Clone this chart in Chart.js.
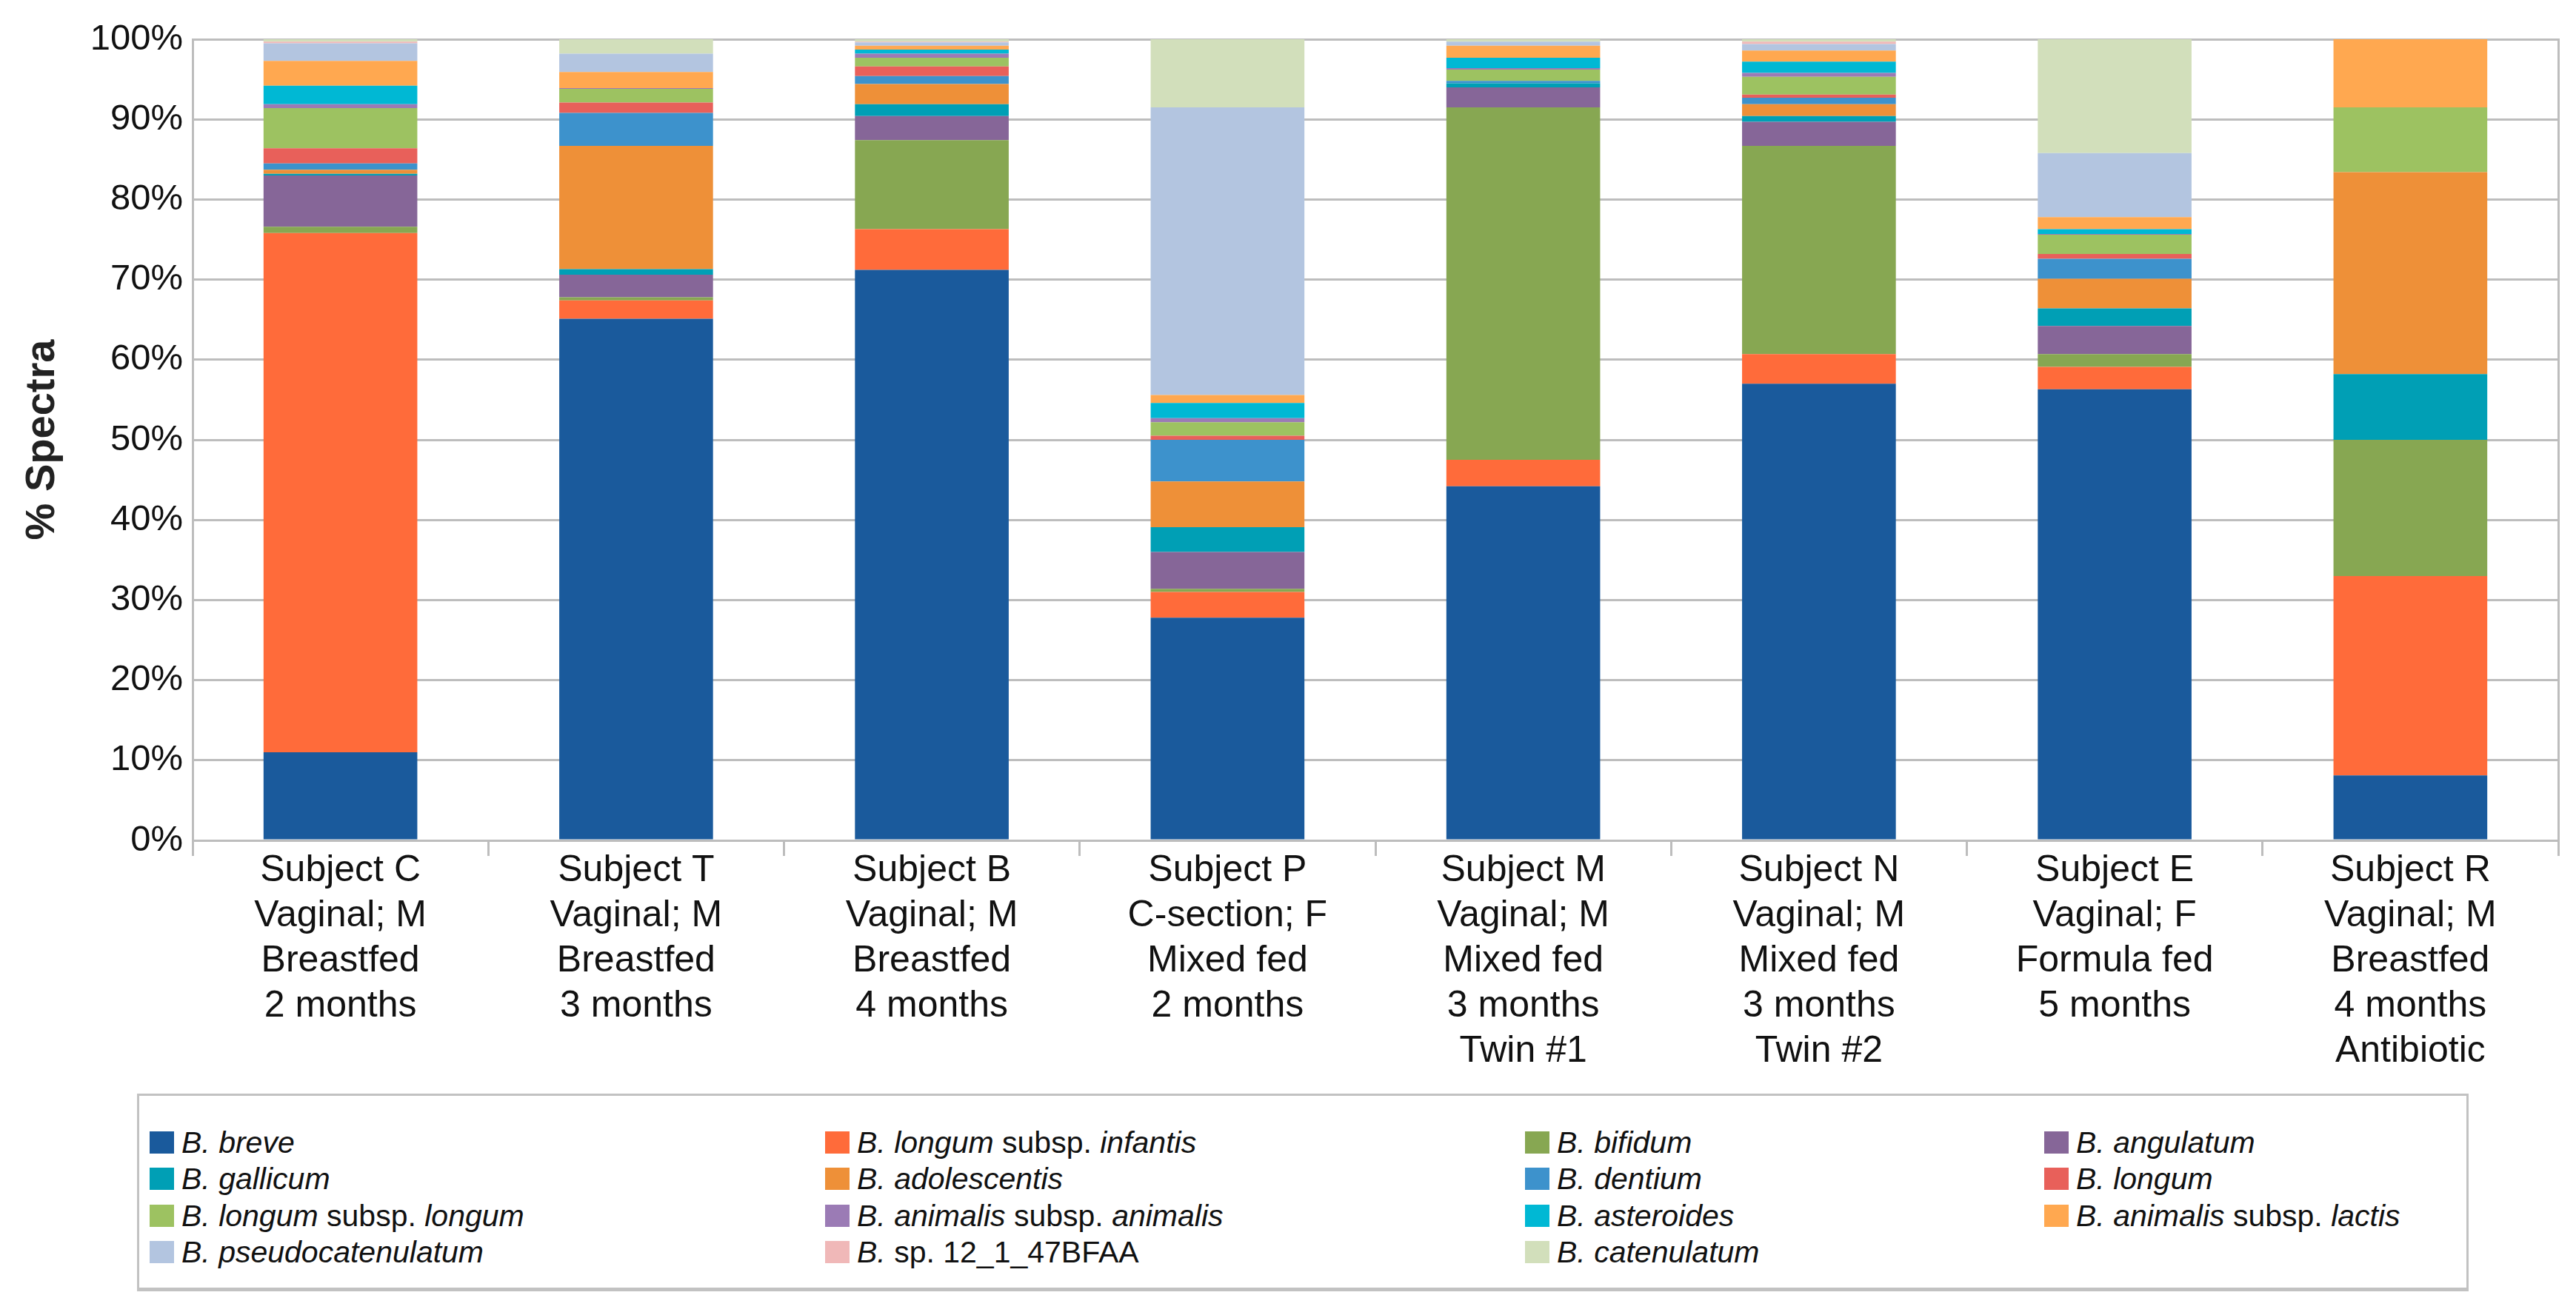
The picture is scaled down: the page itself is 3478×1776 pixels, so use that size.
<!DOCTYPE html>
<html>
<head>
<meta charset="utf-8">
<script src="https://cdn.jsdelivr.net/npm/chart.js@4.4.1/dist/chart.umd.min.js"></script>
<style>
  html, body { margin: 0; padding: 0; background: #fff; }
  #wrap { position: absolute; left: 0; top: 0; width: 3478px; height: 1776px; }
  #c { position: absolute; left: 0; top: 0; }
  #legend {
    position: absolute; left: 185px; top: 1477px; width: 3142px; height: 259px;
    border: 3px solid #c2c2c2; border-bottom-width: 5px; background: #fff;
    font-family: "Liberation Sans", Arial, sans-serif; font-size: 41px; color: #111;
  }
  .item { position: absolute; height: 40px; line-height: 40px; white-space: nowrap; }
  .sw { position: absolute; left: 0; top: 5px; width: 33px; height: 30px; }
  .tx { position: absolute; left: 43px; top: 0; }
  .tx i { font-style: italic; }
</style>
</head>
<body>
<div id="wrap">
  <canvas id="c" width="3478" height="1776"></canvas>
  <div id="legend"></div>
</div>
<script>
// ---- categories (subjects) ----
const subjects = [
  ["Subject C", "Vaginal; M", "Breastfed", "2 months"],
  ["Subject T", "Vaginal; M", "Breastfed", "3 months"],
  ["Subject B", "Vaginal; M", "Breastfed", "4 months"],
  ["Subject P", "C-section; F", "Mixed fed", "2 months"],
  ["Subject M", "Vaginal; M", "Mixed fed", "3 months", "Twin #1"],
  ["Subject N", "Vaginal; M", "Mixed fed", "3 months", "Twin #2"],
  ["Subject E", "Vaginal; F", "Formula fed", "5 months"],
  ["Subject R", "Vaginal; M", "Breastfed", "4 months", "Antibiotic"]
];

// ---- series values (% spectra), order: C, T, B, P, M, N, E, R ----
const breve        = [11.0, 65.1, 71.2, 27.8, 44.2, 57.0, 56.3,  8.1];
const infantis     = [64.8,  2.3,  5.1,  3.2,  3.3,  3.7,  2.8, 24.9];
const bifidum      = [ 0.8,  0.4, 11.1,  0.4, 44.0, 26.0,  1.6, 17.0];
const angulatum    = [ 6.4,  2.8,  3.0,  4.6,  2.5,  3.0,  3.5,  0.0];
const gallicum     = [ 0.2,  0.7,  1.5,  3.1,  0.5,  0.7,  2.2,  8.2];
const adolescentis = [ 0.5, 15.4,  2.5,  5.7,  0.0,  1.5,  3.7, 25.2];
const dentium      = [ 0.8,  4.1,  1.0,  5.2,  0.3,  0.8,  2.5,  0.0];
const longum       = [ 1.9,  1.3,  1.2,  0.5,  0.0,  0.4,  0.6,  0.0];
const longumLongum = [ 5.0,  1.7,  1.1,  1.7,  1.4,  2.2,  2.4,  8.1];
const animalis     = [ 0.5,  0.1,  0.5,  0.5,  0.2,  0.5,  0.1,  0.0];
const asteroides   = [ 2.3,  0.0,  0.5,  1.9,  1.3,  1.4,  0.6,  0.0];
const lactis       = [ 3.1,  2.0,  0.5,  1.0,  1.5,  1.4,  1.5,  8.5];
const pseudocat    = [ 2.2,  2.3,  0.4, 35.9,  0.5,  0.8,  8.0,  0.0];
const sp12         = [ 0.2,  0.0,  0.1,  0.0,  0.0,  0.3,  0.0,  0.0];
const catenulatum  = [ 0.3,  1.9,  0.3,  8.5,  0.3,  0.3, 14.2,  0.0];

const seriesNames = [
  "B. breve", "B. longum subsp. infantis", "B. bifidum", "B. angulatum",
  "B. gallicum", "B. adolescentis", "B. dentium", "B. longum",
  "B. longum subsp. longum", "B. animalis subsp. animalis", "B. asteroides", "B. animalis subsp. lactis",
  "B. pseudocatenulatum", "B. sp. 12_1_47BFAA", "B. catenulatum"
];
const seriesValues = [
  breve, infantis, bifidum, angulatum, gallicum, adolescentis, dentium, longum,
  longumLongum, animalis, asteroides, lactis, pseudocat, sp12, catenulatum
];
const seriesColors = [
  "#1a5a9c", "#ff6b3a", "#87a752", "#866698",
  "#009fb5", "#ee9038", "#3d92cc", "#e8605a",
  "#9dc261", "#9b7bb5", "#00b8d4", "#ffa850",
  "#b3c5e0", "#f0b8b8", "#d2dfbb"
];

// ---- y tick settings ----
const yTickStep = 10;
const yTickSuffix = "%";

const FONT = "'Liberation Sans', Arial, sans-serif";
const GRID = "#bdbdbd";

const datasets = seriesNames.map((n, i) => ({
  label: n,
  data: seriesValues[i],
  backgroundColor: seriesColors[i],
  borderWidth: 0,
  barPercentage: 0.52,
  categoryPercentage: 1.0
}));

new Chart(document.getElementById('c'), {
  type: 'bar',
  data: { labels: subjects, datasets },
  options: {
    responsive: false,
    animation: false,
    devicePixelRatio: 1,
    layout: { padding: { left: 0, right: 24, top: 53, bottom: 341 } },
    plugins: { legend: { display: false }, tooltip: { enabled: false } },
    scales: {
      x: {
        stacked: true,
        offset: true,
        grid: { display: true, drawOnChartArea: false, drawTicks: true, tickLength: 21, color: GRID, lineWidth: 3, offset: true },
        border: { display: true, color: GRID, width: 3 },
        ticks: {
          color: "#111", autoSkip: false, maxRotation: 0, minRotation: 0, padding: -10,
          font: { family: FONT, size: 50, lineHeight: 1.22 }
        },
        afterFit: (s) => { s.height = 300; }
      },
      y: {
        stacked: true,
        min: 0, max: 100,
        grid: { color: GRID, lineWidth: 3, drawTicks: false },
        border: { display: true, color: GRID, width: 3 },
        ticks: {
          stepSize: yTickStep, padding: 13, color: "#111",
          font: { family: FONT, size: 49 },
          callback: (v) => v + yTickSuffix
        },
        title: {
          display: true, text: "% Spectra", color: "#222",
          font: { family: FONT, size: 56, weight: 'bold' },
          padding: { top: 24, bottom: 0 }
        },
        afterFit: (s) => { s.width = 260; }
      },
      y2: {
        position: 'right',
        min: 0, max: 100,
        grid: { display: false, drawTicks: false },
        ticks: { display: false },
        border: { display: true, color: GRID, width: 3 },
        afterFit: (s) => { s.width = 0; }
      }
    }
  }
});

// ---- HTML legend (4 columns, row-major like the original) ----
const legendColX = [14, 926, 1871, 2572];
const legendRowY = [43, 92, 142, 191];
function fmt(name) {
  const w = name.split(' ');
  let out = '<i>' + w[0] + '</i>';
  if (w[1] === 'sp.') return out + ' ' + w.slice(1).join(' ');
  for (let k = 1; k < w.length; k++) {
    out += ' ' + (w[k] === 'subsp.' ? w[k] : '<i>' + w[k] + '</i>');
  }
  return out;
}
const lg = document.getElementById('legend');
seriesNames.forEach((n, i) => {
  const col = i % 4, row = Math.floor(i / 4);
  const d = document.createElement('div');
  d.className = 'item';
  d.style.left = legendColX[col] + 'px';
  d.style.top = legendRowY[row] + 'px';
  d.innerHTML = '<span class="sw" style="background:' + seriesColors[i] + '"></span><span class="tx">' + fmt(n) + '</span>';
  lg.appendChild(d);
});
</script>
</body>
</html>
